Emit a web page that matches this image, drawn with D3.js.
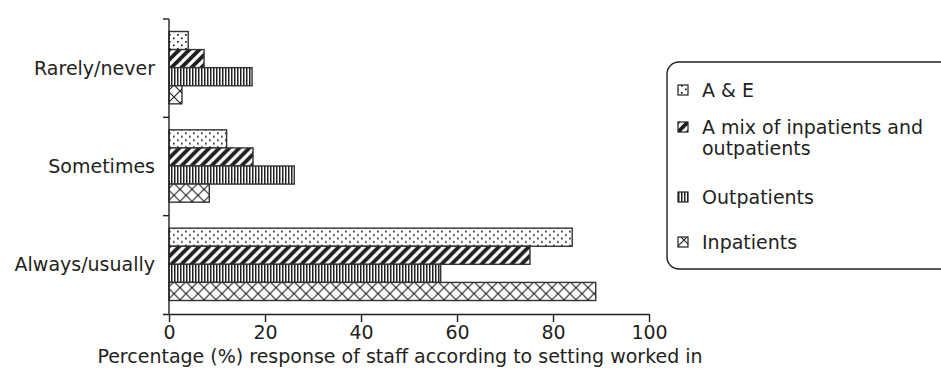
<!DOCTYPE html>
<html>
<head>
<meta charset="utf-8">
<script src="https://cdn.jsdelivr.net/npm/d3@7"></script>
<style>
  html, body { margin: 0; padding: 0; background: #fff; }
  svg { display: block; font-family: "DejaVu Sans", "Open Sans", sans-serif; }
</style>
</head>
<body>
<svg id="chart" width="941" height="385"></svg>
<script>
// Response categories (top to bottom)
const categories = ["Rarely/never", "Sometimes", "Always/usually"];
// Work settings, in bar order within each group
const settings = ["A & E", "A mix of inpatients and outpatients", "Outpatients", "Inpatients"];
// Percentage of staff per setting for each category
const aeValues = [4.0, 12.0, 84.0];
const mixValues = [7.3, 17.5, 75.2];
const outValues = [17.3, 26.1, 56.6];
const inValues = [2.7, 8.4, 88.9];
const xTicks = [0, 20, 40, 60, 80, 100];
const xTitle = "Percentage (%) response of staff according to setting worked in";

const seriesValues = [aeValues, mixValues, outValues, inValues];
const patternIds = ["pat-dots", "pat-diag", "pat-vert", "pat-cross"];

const svg = d3.select("#chart");
const ink = "#231f20";
const fontFamily = "'DejaVu Sans', 'Open Sans', sans-serif";
const font = 19;

// Hatch patterns
const defs = svg.append("defs");
const pDots = defs.append("pattern").attr("id", "pat-dots")
  .attr("patternUnits", "userSpaceOnUse").attr("width", 8).attr("height", 7);
pDots.append("rect").attr("width", 8).attr("height", 7).attr("fill", "#fff");
pDots.append("rect").attr("x", 1).attr("y", 1).attr("width", 1.7).attr("height", 1.7).attr("fill", ink);
pDots.append("rect").attr("x", 5).attr("y", 4.5).attr("width", 1.7).attr("height", 1.7).attr("fill", ink);

const pDiag = defs.append("pattern").attr("id", "pat-diag")
  .attr("patternUnits", "userSpaceOnUse").attr("width", 10).attr("height", 10);
pDiag.append("rect").attr("width", 10).attr("height", 10).attr("fill", "#fff");
pDiag.append("path").attr("d", "M-2,12 L12,-2 M-7,7 L7,-7 M3,17 L17,3")
  .attr("stroke", ink).attr("stroke-width", 3.8);

const pVert = defs.append("pattern").attr("id", "pat-vert")
  .attr("patternUnits", "userSpaceOnUse").attr("width", 3).attr("height", 10);
pVert.append("rect").attr("width", 3).attr("height", 10).attr("fill", "#fff");
pVert.append("rect").attr("x", 0).attr("width", 1.5).attr("height", 10).attr("fill", ink);

const pCross = defs.append("pattern").attr("id", "pat-cross")
  .attr("patternUnits", "userSpaceOnUse").attr("width", 12).attr("height", 12);
pCross.append("rect").attr("width", 12).attr("height", 12).attr("fill", "#fff");
pCross.append("path").attr("d", "M0,0 L12,12 M12,0 L0,12")
  .attr("stroke", ink).attr("stroke-width", 1.1);

// Scales
const x = d3.scaleLinear().domain([0, 100]).range([169, 649]);
const y = d3.scaleBand().domain(categories).range([19, 314]).padding(0);
const yInner = d3.scaleBand().domain(settings)
  .range([12.5, y.bandwidth() - 13.5]).padding(0);

// Bars
const groups = svg.append("g").selectAll("g")
  .data(categories)
  .join("g")
  .attr("transform", c => `translate(0,${y(c)})`);

groups.selectAll("rect")
  .data((c, ci) => settings.map((s, si) => ({ s, si, v: seriesValues[si][ci] })))
  .join("rect")
  .attr("x", x(0))
  .attr("y", d => yInner(d.s))
  .attr("width", d => x(d.v) - x(0))
  .attr("height", yInner.bandwidth())
  .attr("fill", d => `url(#${patternIds[d.si]})`)
  .attr("stroke", "#333")
  .attr("stroke-width", 1.4);

// X axis
const xAxis = svg.append("g")
  .attr("transform", "translate(0,314)")
  .call(d3.axisBottom(x).tickValues(xTicks).tickSize(8).tickPadding(6).tickSizeOuter(0));
xAxis.select(".domain").attr("d", `M163,0.5H${x(100)}`).attr("stroke", ink).attr("stroke-width", 1.4);
xAxis.selectAll(".tick line").attr("stroke", ink).attr("stroke-width", 1.4);
xAxis.selectAll(".tick text").attr("fill", ink).attr("font-size", font)
  .attr("font-family", fontFamily).attr("dy", null).attr("y", 25);

// Y axis: ticks at group boundaries
const yAxisG = svg.append("g");
yAxisG.append("line")
  .attr("x1", x(0)).attr("x2", x(0)).attr("y1", y.range()[0]).attr("y2", y.range()[1])
  .attr("stroke", ink).attr("stroke-width", 1.4);
const boundaries = categories.map(c => y(c));
yAxisG.selectAll("line.tk")
  .data(boundaries)
  .join("line").attr("class", "tk")
  .attr("x1", x(0) - 6).attr("x2", x(0))
  .attr("y1", d => d).attr("y2", d => d)
  .attr("stroke", ink).attr("stroke-width", 1.4);
yAxisG.selectAll("text")
  .data(categories)
  .join("text")
  .attr("x", 155)
  .attr("y", c => y(c) + y.bandwidth() / 2)
  .attr("dy", "0.35em")
  .attr("text-anchor", "end")
  .attr("font-size", font)
  .attr("fill", ink)
  .text(c => c);

// Axis title
svg.append("text")
  .attr("x", 400).attr("y", 363)
  .attr("text-anchor", "middle")
  .attr("font-size", font).attr("fill", ink)
  .text(xTitle);

// Legend
const lg = svg.append("g");
lg.append("rect")
  .attr("x", 667).attr("y", 62).attr("width", 300).attr("height", 207)
  .attr("rx", 12).attr("ry", 12)
  .attr("fill", "#fff").attr("stroke", ink).attr("stroke-width", 1.4);

const legendRows = [
  { lines: ["A & E"], y: 90 },
  { lines: ["A mix of inpatients and", "outpatients"], y: 127 },
  { lines: ["Outpatients"], y: 197 },
  { lines: ["Inpatients"], y: 242 }
];
legendRows.forEach((r, i) => {
  lg.append("rect")
    .attr("x", 678).attr("y", r.y - 5).attr("width", 10).attr("height", 10)
    .attr("fill", `url(#${patternIds[i]})`)
    .attr("stroke", ink).attr("stroke-width", 1.2);
  const t = lg.append("text")
    .attr("x", 702).attr("y", r.y)
    .attr("font-size", font).attr("fill", ink);
  r.lines.forEach((ln, k) => {
    t.append("tspan").attr("x", 702).attr("dy", k === 0 ? "0.35em" : "21px").text(ln);
  });
});
</script>
</body>
</html>
